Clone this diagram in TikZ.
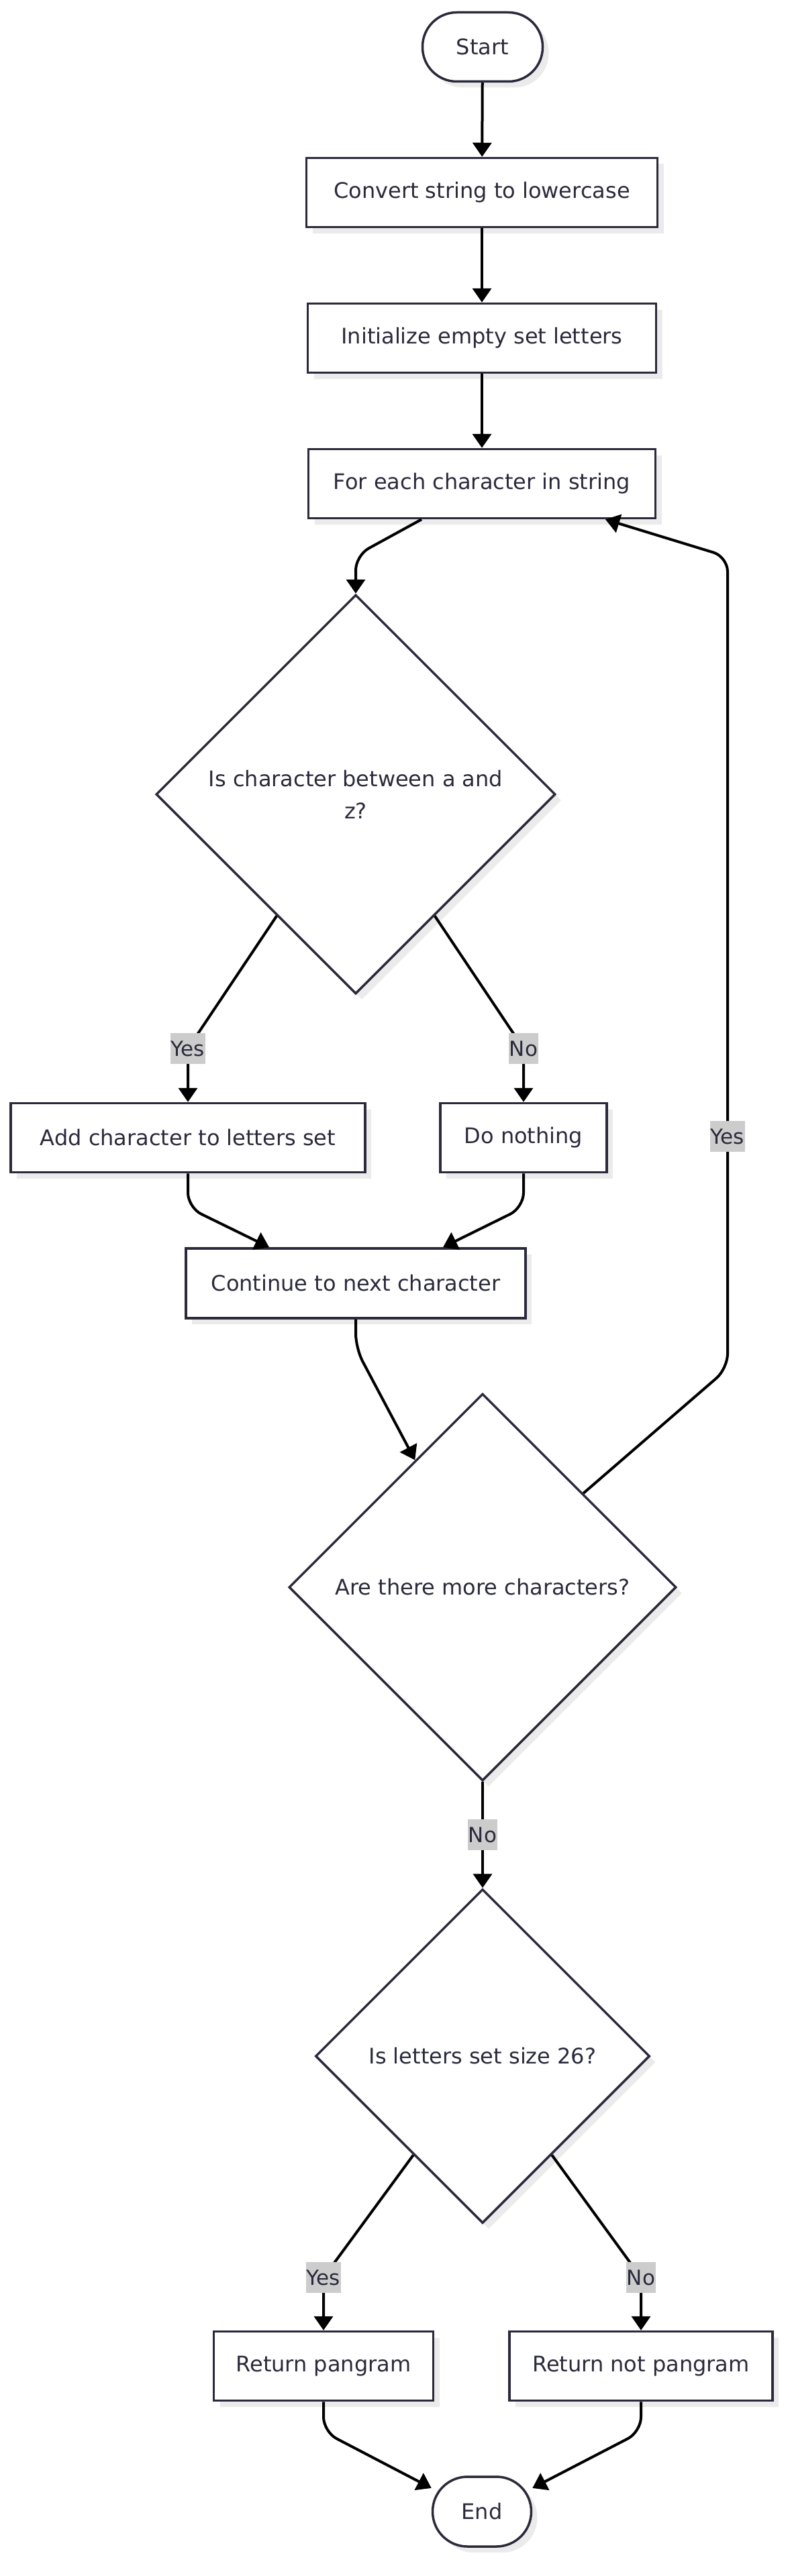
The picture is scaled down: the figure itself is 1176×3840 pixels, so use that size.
\documentclass[tikz,border=0pt]{standalone}
\usepackage{fontspec}
\setmainfont{DejaVu Sans}
\usetikzlibrary{shapes.geometric,arrows.meta,shadows,calc}
\definecolor{inkc}{HTML}{2A2A3C}
\definecolor{labelc}{HTML}{CCCCCC}
\definecolor{shadowc}{HTML}{EBEBEB}
\tikzset{
 base/.style={draw=inkc, line width=3.5pt, fill=white, text=inkc, inner sep=0pt,
   font=\fontsize{32}{48}\selectfont,
   general shadow={fill=shadowc, shadow xshift=9pt, shadow yshift=-9pt}},
 procbox/.style={base, rectangle, minimum height=103pt},
 termbox/.style={base, rectangle, rounded corners=51pt, minimum height=103pt},
 decbox/.style={base, diamond, align=center},
 conn/.style={line width=4pt, black, -{Triangle[length=21pt,width=28pt]}, rounded corners=22pt},
 lbl/.style={fill=labelc, text=inkc, inner xsep=1pt, inner ysep=0pt, minimum height=46pt,
   font=\fontsize{31}{36}\selectfont},
}
\begin{document}
\begin{tikzpicture}[x=1pt,y=-1pt]
\useasboundingbox (0,0) rectangle (1176,3840);
\fill[white] (0,0) rectangle (1176,3840);

\node[termbox, minimum width=179pt] (start) at (719,70) {Start};
\node[procbox, minimum width=523pt] (conv) at (718,287) {Convert string to lowercase};
\node[procbox, minimum width=519pt] (init) at (718,504) {Initialize empty set letters};
\node[procbox, minimum width=517pt] (fe) at (718,721) {For each character in string};
\node[decbox, minimum width=595pt, minimum height=595pt] (d1) at (530,1184) {Is character between a and\\z?};
\node[procbox, minimum width=528pt] (add) at (280,1696) {Add character to letters set};
\node[procbox, minimum width=248pt] (dn) at (780,1696) {Do nothing};
\node[procbox, minimum width=506pt, minimum height=104pt] (cont) at (530,1913) {Continue to next character};
\node[decbox, minimum width=577pt, minimum height=577pt] (d2) at (719,2366) {Are there more characters?};
\node[decbox, minimum width=498pt, minimum height=498pt] (d3) at (719,3065) {Is letters set size 26?};
\node[procbox, minimum width=327pt] (rp) at (482,3527) {Return pangram};
\node[procbox, minimum width=392pt] (rnp) at (955,3527) {Return not pangram};
\node[termbox, minimum width=147pt, minimum height=104pt, rounded corners=52pt] (end) at (718,3744) {End};

\draw[conn] (start) -- (conv);
\draw[conn] (conv) -- (init);
\draw[conn] (init) -- (fe);
\draw[conn] ($(fe.south)+(-90,0)$) -- (530,828) -- (d1.north);
\draw[conn] (d1.237) -- (280,1563) -- (add.north);
\draw[conn] (d1.303) -- (780,1563) -- (dn.north);
\draw[conn] (add.south) -- (280,1800) -- ($(cont.north)+(-129,0)$);
\draw[conn] (dn.south) -- (780,1800) -- ($(cont.north)+(130,0)$);
\draw[conn] (cont.south) -- (530,2010) -- (d2.118);
\draw[conn] (d2.43) -- (1084,2040) -- (1084,830) -- ($(fe.south)+(184,0)$);
\draw[conn] (d2.south) -- (d3.north);
\draw[conn] (d3.235) -- (482,3395) -- (rp.north);
\draw[conn] (d3.305) -- (955,3395) -- (rnp.north);
\draw[conn] (rp.south) -- (482,3625) -- (end.155);
\draw[conn] (rnp.south) -- (955,3625) -- (end.25);

\node[lbl] (l1) at (280,1563) {Yes};
\node[lbl] (l2) at (780,1563) {No};
\node[lbl] (l3) at (1084,1694) {Yes};
\node[lbl] (l4) at (719,2735) {No};
\node[lbl] (l5) at (482,3395) {Yes};
\node[lbl] (l6) at (955,3395) {No};
\end{tikzpicture}
\end{document}
